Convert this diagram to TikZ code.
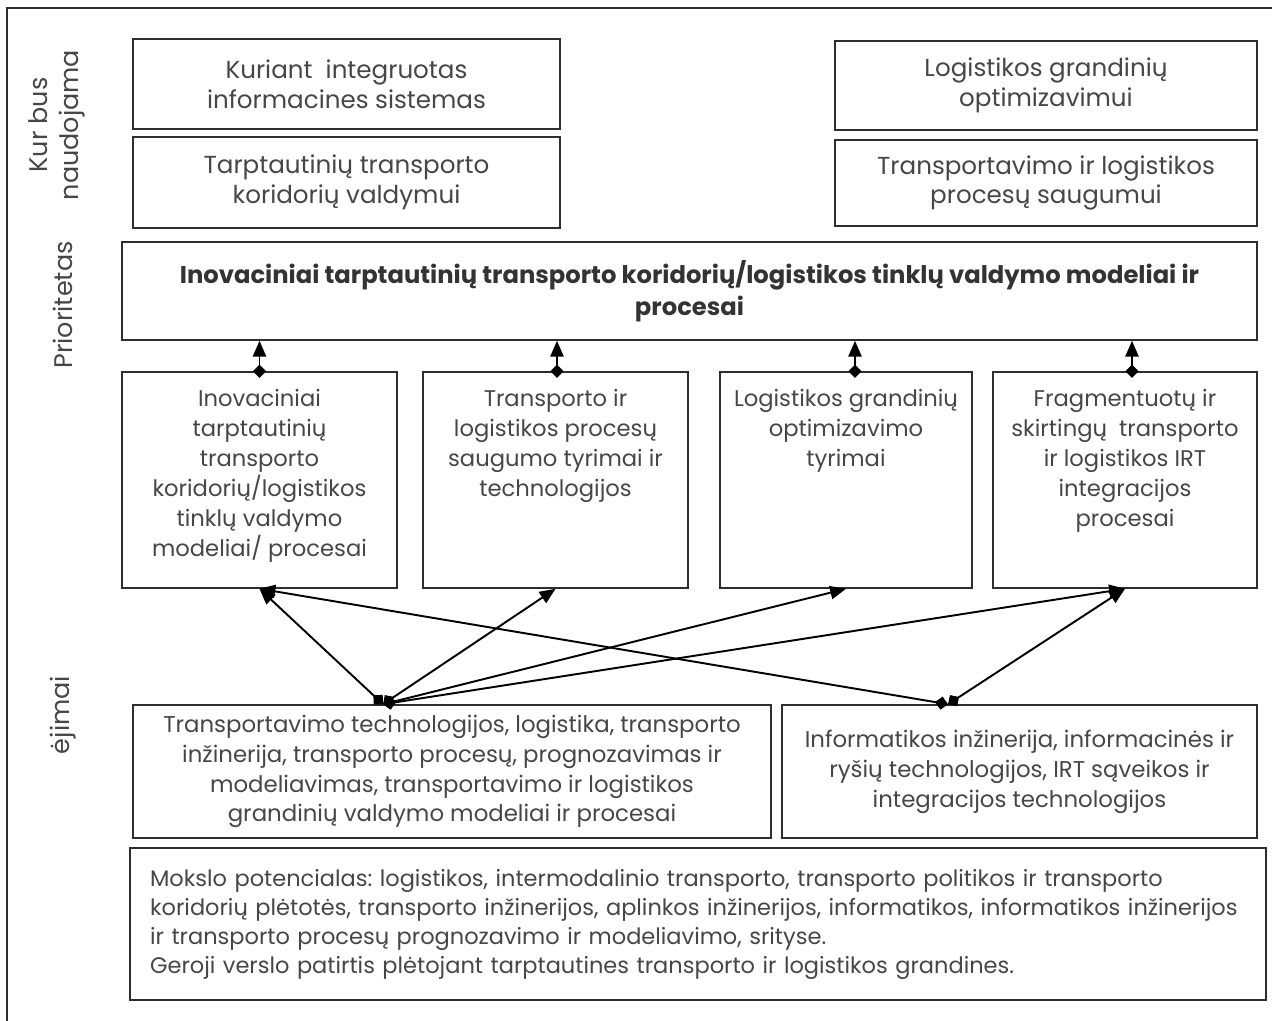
\documentclass[tikz,border=0pt]{standalone}
\usepackage{fontspec}
\setmainfont{Poppins}
\usetikzlibrary{arrows.meta,positioning,calc}

\definecolor{txtgray}{HTML}{464646}
\definecolor{linegray}{HTML}{2E2E2E}

\tikzset{
  box/.style={draw=linegray, line width=0.9pt, align=center, text=txtgray,
    font=\fontsize{13}{17}\selectfont, inner sep=2pt},
  topbox/.style={box, font=\fontsize{14}{17}\selectfont},
  midtxt/.style={align=center, text=txtgray, font=\fontsize{12.9}{17}\selectfont, inner sep=0pt},
  side/.style={align=center, text=txtgray, font=\fontsize{14.5}{18}\selectfont, rotate=90},
  uplink/.style={line width=1.1pt, shorten <=-3.8pt,
    {Diamond[length=7.5pt,width=7.5pt]}-{Triangle[length=9pt,width=7.5pt]}},
  crosslink/.style={line width=1.1pt,
    {Diamond[length=7.5pt,width=7.5pt]}-{Triangle[length=9pt,width=7.5pt]}},
}

\begin{document}
\frenchspacing
\begin{tikzpicture}[x=0.02cm, y=-0.02cm]
  \useasboundingbox (0,0) rectangle (1272,1021);
  \draw[linegray, line width=1.4pt] (7,1030) -- (7,8) -- (1280,8);

  % side labels
  \node[side] (kurlbl) at (57,125) {Kur bus\\naudojama};
  \node[side] (prilbl) at (63,305) {Prioritetas};
  \node[side] (ejlbl) at (63,715) {ėjimai};

  % where it will be used
  \node[topbox, minimum width=8.54cm, minimum height=1.8cm] (kur1) at (346.5,84)
    {Kuriant\ \ integruotas\\informacines sistemas};
  \node[topbox, minimum width=8.54cm, minimum height=1.82cm] (kur2) at (346.5,182.5)
    {Tarptautinių transporto\\koridorių valdymui};
  \node[topbox, minimum width=8.44cm, minimum height=1.78cm] (kur3) at (1046,85.5)
    {Logistikos grandinių\\optimizavimui};
  \node[topbox, minimum width=8.44cm, minimum height=1.72cm] (kur4) at (1046,183)
    {Transportavimo ir logistikos\\procesų saugumui};

  % priority
  \node[box, minimum width=22.7cm, minimum height=1.96cm,
    font=\bfseries\fontsize{13.8}{18.5}\selectfont, text=black!80] (prio) at (689.5,291)
    {Inovaciniai tarptautinių transporto koridorių/logistikos tinklų valdymo modeliai ir\\procesai};

  % research directions
  \node[box, minimum width=5.5cm, minimum height=4.32cm] (m1) at (259.5,480) {};
  \node[box, minimum width=5.3cm, minimum height=4.32cm] (m2) at (555.5,480) {};
  \node[box, minimum width=5.04cm, minimum height=4.32cm] (m3) at (846,480) {};
  \node[box, minimum width=5.28cm, minimum height=4.32cm] (m4) at (1125,480) {};
  \node[midtxt, below=0.36cm of m1.north] (m1t)
    {Inovaciniai\\tarptautinių\\transporto\\koridorių/logistikos\\tinklų valdymo\\modeliai/ procesai};
  \node[midtxt, below=0.36cm of m2.north] (m2t)
    {Transporto ir\\logistikos procesų\\saugumo tyrimai ir\\technologijos};
  \node[midtxt, below=0.36cm of m3.north] (m3t)
    {Logistikos grandinių\\optimizavimo\\tyrimai};
  \node[midtxt, below=0.36cm of m4.north] (m4t)
    {Fragmentuotų ir\\skirtingų\ \ transporto\\ir logistikos IRT\\integracijos\\procesai};

  % inputs
  \node[box, minimum width=12.76cm, minimum height=2.66cm] (inl) at (452,771.5)
    {Transportavimo technologijos, logistika, transporto\\inžinerija, transporto procesų, prognozavimas ir\\modeliavimas, transportavimo ir logistikos\\grandinių valdymo modeliai ir procesai};
  \node[box, minimum width=9.5cm, minimum height=2.66cm] (inr) at (1019.5,771.5)
    {Informatikos inžinerija, informacinės ir\\ryšių technologijos, IRT sąveikos ir\\integracijos technologijos};

  % potential
  \node[box, minimum width=22.72cm, minimum height=3.04cm, align=left,
    font=\fontsize{12.8}{16.5}\selectfont,
    text width=21.92cm, inner xsep=0.4cm] (pot) at (698,924)
    {Mokslo potencialas: logistikos, intermodalinio transporto, transporto politikos ir transporto\\
     koridorių plėtotės, transporto inžinerijos, aplinkos inžinerijos, informatikos, informatikos inžinerijos\\
     ir transporto procesų prognozavimo ir modeliavimo, srityse.\\
     Geroji verslo patirtis plėtojant tarptautines transporto ir logistikos grandines.};

  \coordinate (lsrc) at ([xshift=-1.38cm]inl.north);
  \coordinate (rsrc) at ([xshift=-1.43cm]inr.north);

  \foreach \m/\dx in {m1/0, m2/1.5, m3/9, m4/7}{%
    \draw[uplink] ([xshift=\dx*0.02cm]\m.north) -- ([xshift=\dx*0.02cm]\m.north |- prio.south);
  }
  \foreach \m in {m1, m2, m3, m4}{ \draw[crosslink] (lsrc) -- (\m.south); }
  \foreach \m in {m1, m4}{ \draw[crosslink] (rsrc) -- (\m.south); }
\end{tikzpicture}
\end{document}
